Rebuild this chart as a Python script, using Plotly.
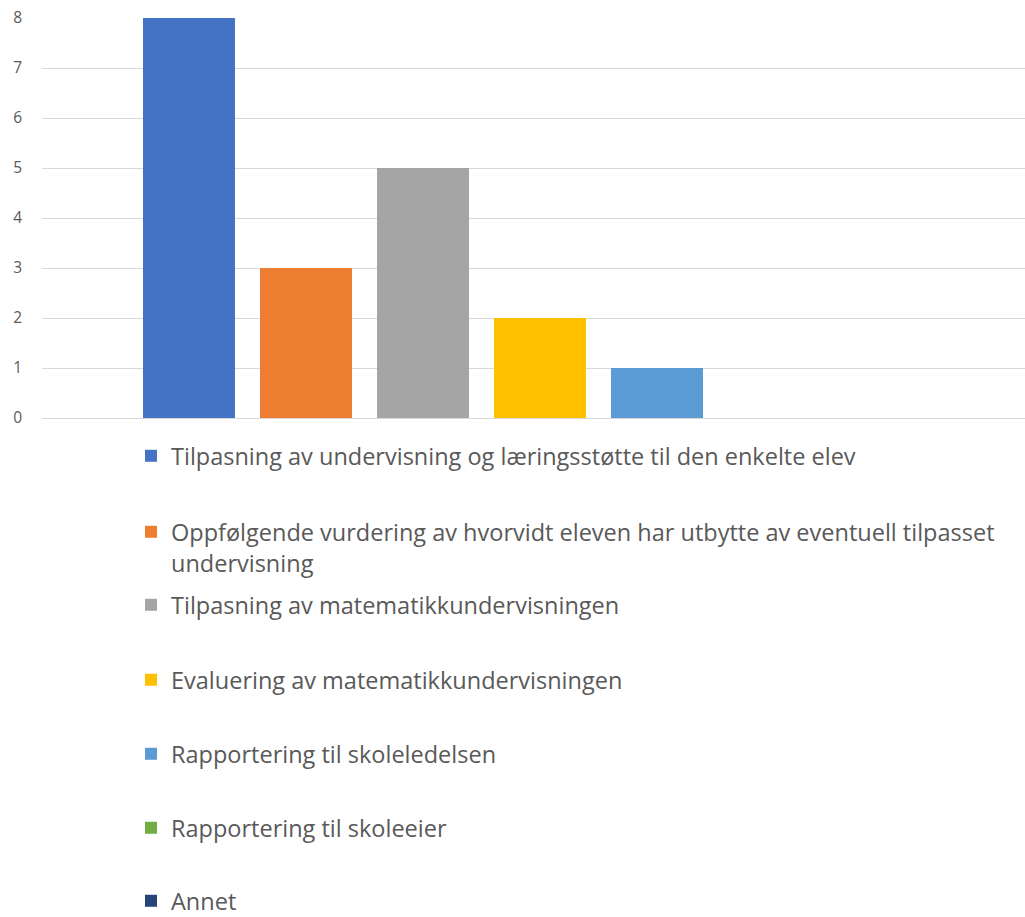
import plotly.graph_objects as go

categories = [
    "Tilpasning av undervisning og læringsstøtte til den enkelte elev",
    "Oppfølgende vurdering av hvorvidt eleven har utbytte av eventuell tilpasset<br>undervisning",
    "Tilpasning av matematikkundervisningen",
    "Evaluering av matematikkundervisningen",
    "Rapportering til skoleledelsen",
    "Rapportering til skoleeier",
    "Annet",
]
values = [8, 3, 5, 2, 1, 0, 0]
colors = ["#4472C4", "#ED7D31", "#A5A5A5", "#FFC000", "#5B9BD5", "#70AD47", "#264478"]
y_ticks = [0, 1, 2, 3, 4, 5, 6, 7, 8]

W, H = 1025, 917
legend_centers = [456, 528, 605, 680, 754, 828, 901]

fig = go.Figure()
for i, (name, v, c) in enumerate(zip(categories, values, colors)):
    lname = "legend" if i == 0 else f"legend{i+1}"
    fig.add_trace(go.Bar(
        x=[""], y=[v], name=name, marker_color=c,
        marker_line_width=0, legend=lname, hoverinfo="skip",
    ))

layout_legends = {}
for i, yc in enumerate(legend_centers):
    key = "legend" if i == 0 else f"legend{i+1}"
    multi = "<br>" in categories[i]
    layout_legends[key] = dict(
        xref="container", yref="container",
        x=131 / W,
        y=1 - (yc - 18) / H if multi else 1 - yc / H,
        xanchor="left",
        yanchor="top" if multi else "middle",
        valign="top" if multi else "middle",
        bgcolor="rgba(0,0,0,0)",
        borderwidth=0,
        font=dict(family="Open Sans", size=23.5, color="#595959"),
        itemclick=False, itemdoubleclick=False,
    )

fig.update_layout(
    width=W, height=H,
    margin=dict(l=42, r=0, t=18, b=H - 418, autoexpand=False),
    paper_bgcolor="white", plot_bgcolor="white",
    barmode="group",
    bargap=0.181,
    bargroupgap=25 / 117,
    showlegend=True,
    font=dict(family="Open Sans", color="#595959"),
    xaxis=dict(range=[-0.498, 0.485], showticklabels=False, showgrid=False,
               zeroline=False, showline=False, fixedrange=True),
    yaxis=dict(range=[0, 8], tickvals=y_ticks, showgrid=True, gridcolor="#D9D9D9",
               gridwidth=1, zeroline=True, zerolinecolor="#D9D9D9", zerolinewidth=1,
               showline=False, ticks="", ticklabelstandoff=19,
               tickfont=dict(family="Open Sans", size=15.5, color="#595959"),
               fixedrange=True),
    **layout_legends,
)

fig.write_html("out.html")
